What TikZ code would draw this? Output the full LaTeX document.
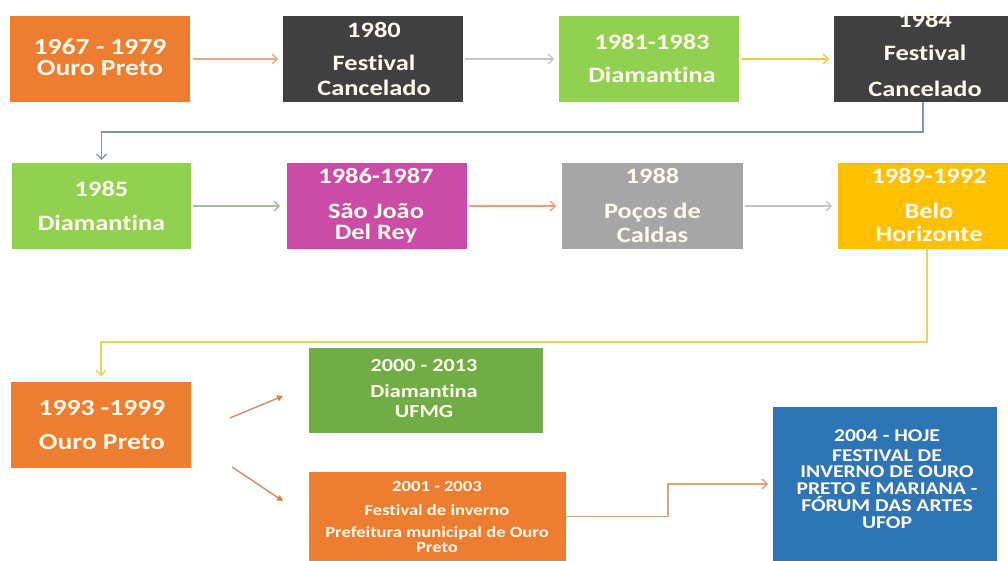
\documentclass[tikz,border=0pt]{standalone}
\usepackage{fontspec}
\setmainfont{Carlito}[FakeStretch=1.2, Ligatures=NoCommon]
\usetikzlibrary{arrows.meta}
\definecolor{corange}{HTML}{ED7D31}
\definecolor{cdark}{HTML}{404040}
\definecolor{clime}{HTML}{92D050}
\definecolor{cmag}{HTML}{CA4CA6}
\definecolor{cgray}{HTML}{A6A6A6}
\definecolor{cyel}{HTML}{FFC000}
\definecolor{cgreen}{HTML}{70AD47}
\definecolor{cblue}{HTML}{2E75B6}
\definecolor{txtc}{HTML}{FFFAEB}
\definecolor{aorange}{HTML}{E4A882}
\definecolor{agray}{HTML}{C4C4C4}
\definecolor{ayel}{HTML}{F2CB4C}
\definecolor{ablue}{HTML}{7E98B4}
\definecolor{agreen}{HTML}{A8B89C}
\definecolor{aorange2}{HTML}{E8A07A}
\definecolor{alemon}{HTML}{E6D462}
\definecolor{abrown}{HTML}{C8906E}
\definecolor{atip}{HTML}{E07A38}
\definecolor{akl}{HTML}{D9A476}
\newcommand\ml[3]{\vtop{\fontsize{#1}{#2}\selectfont\lineskiplimit=-100pt\relax\halign{\hfil##\hfil\cr#3\crcr}}}
\newcommand\gp[1]{\noalign{\kern#1pt}}
\tikzset{
  bx/.style={inner sep=0pt, outer sep=0pt, draw=none},
  txt/.style={anchor=base, inner sep=0pt, text=txtc, font=\bfseries},
  conn/.style={line width=1.3pt, -{Straight Barb[length=5pt,width=10pt]}},
  diag/.style={line width=1.4pt, draw=abrown, -{Triangle[length=6pt,width=6pt,color=atip]}}
}
\begin{document}
\begin{tikzpicture}[x=1pt,y=-1pt]
\useasboundingbox[fill=white] (0,0) rectangle (1008,561);
% boxes
\node[bx, fill=corange, minimum width=180pt, minimum height=86pt] (A) at (100,59) {};
\node[bx, fill=cdark,   minimum width=180pt, minimum height=86pt] (B) at (373,59) {};
\node[bx, fill=clime,   minimum width=180pt, minimum height=86pt] (C) at (649,59) {};
\node[bx, fill=cdark,   minimum width=174pt, minimum height=86pt] (D) at (921,59) {};
\node[bx, fill=clime,   minimum width=179pt, minimum height=86pt] (E) at (101.5,206) {};
\node[bx, fill=cmag,    minimum width=180pt, minimum height=86pt] (F) at (377,206) {};
\node[bx, fill=cgray,   minimum width=181pt, minimum height=86pt] (G) at (652.5,206) {};
\node[bx, fill=cyel,    minimum width=170pt, minimum height=86pt] (H) at (923,206) {};
\node[bx, fill=corange, minimum width=180pt, minimum height=86pt] (I) at (101,425) {};
\node[bx, fill=cgreen,  minimum width=234pt, minimum height=85pt] (J) at (426,390.5) {};
\node[bx, fill=corange, minimum width=257pt, minimum height=89pt] (K) at (437.5,516.5) {};
\node[bx, fill=cblue,   minimum width=224pt, minimum height=154pt] (L) at (885,484) {};
% texts
\node[txt] (At) at (100,55) {\ml{23}{21}{1967 - 1979\cr Ouro Preto}};
\node[txt] (Bt) at (374,37.5) {\ml{22}{25}{1980\cr\gp{8.5}Festival\cr Cancelado}};
\node[txt] (Ct) at (652,50) {\ml{22}{33}{1981-1983\cr Diamantina}};
\node[txt] (Dt) at (925,28) {\ml{22}{33}{1984\cr Festival\cr\gp{3}Cancelado}};
\node[txt] (Et) at (101.5,197) {\ml{22}{34}{1985\cr Diamantina}};
\node[txt] (Ft) at (376,184) {\ml{22}{21}{1986-1987\cr\gp{14}São João\cr Del Rey}};
\node[txt] (Gt) at (652.5,184) {\ml{22}{24}{1988\cr\gp{11}Poços de\cr Caldas}};
\node[txt] (Ht) at (929,184) {\ml{22}{23}{1989-1992\cr\gp{12}Belo\cr Horizonte}};
\node[txt] (It) at (102,415.5) {\ml{23}{34}{1993 -1999\cr Ouro Preto}};
\node[txt] (Jt) at (424,371) {\ml{18.5}{20}{2000 - 2013\cr\gp{6}Diamantina\cr UFMG}};
\node[txt] (Kt) at (437,491) {\ml{15.5}{15}{2001 - 2003\cr\gp{9}Festival de inverno\cr\gp{7}Prefeitura municipal de Ouro\cr Preto}};
\node[txt] (Lt) at (887,441) {\ml{18}{16.8}{2004 - HOJE\cr\gp{3.2}FESTIVAL DE\cr INVERNO DE OURO\cr PRETO E MARIANA -\cr FÓRUM DAS ARTES\cr UFOP}};
% connectors
\draw[conn, draw=aorange, shorten <=3pt, shorten >=5pt] (A) -- (B);
\draw[conn, draw=agray, shorten <=2pt, shorten >=5pt] (B) -- (C);
\draw[conn, draw=ayel, shorten <=2pt, shorten >=5pt] (C) -- (D);
\draw[conn, draw=ablue, shorten >=3pt] ([xshift=2pt]D.south) |- ([yshift=31pt]E.north) -- (E.north);
\draw[conn, draw=agreen, shorten <=2pt, shorten >=7pt] (E) -- (F);
\draw[conn, draw=aorange2, shorten <=2pt, shorten >=6pt] (F) -- (G);
\draw[conn, draw=agray, shorten <=2pt, shorten >=6pt] (G) -- (H);
\draw[conn, draw=alemon, shorten >=6pt] ([xshift=4pt]H.south) |- ([yshift=40pt]I.north) -- (I.north);
\coordinate (ij1) at (230,418);
\coordinate (ij2) at (283,396);
\coordinate (ik1) at (232,467);
\coordinate (ik2) at (283,501);
\draw[diag] (ij1) -- (ij2);
\draw[diag] (ik1) -- (ik2);
\coordinate (kl) at (668,0);
\draw[conn, draw=akl, shorten >=5pt] (K.east) -| (kl |- L.west) -- (L.west);
\end{tikzpicture}
\end{document}
